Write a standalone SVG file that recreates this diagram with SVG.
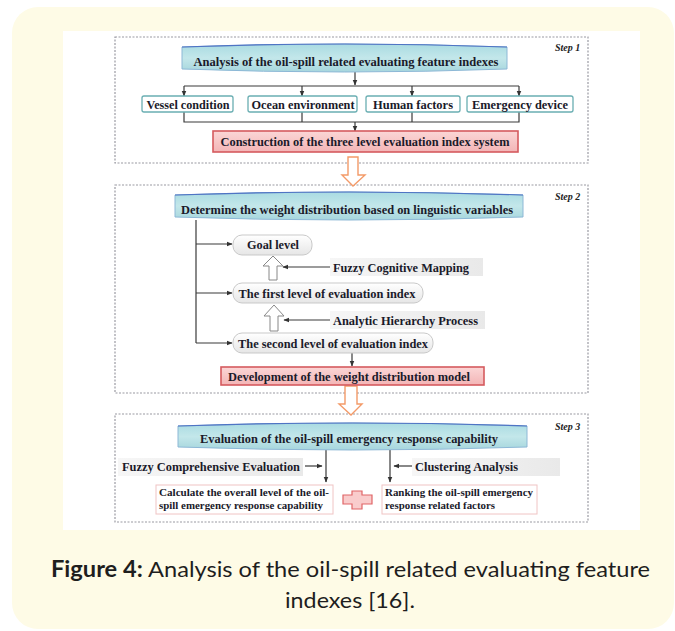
<svg xmlns="http://www.w3.org/2000/svg" width="675" height="631" viewBox="0 0 675 631">
<defs>
<style>
.t{font-family:"Liberation Serif","Times New Roman",serif;font-weight:bold;fill:#1a1a2a;}
.step{font-family:"Liberation Serif","Times New Roman",serif;font-weight:bold;font-style:italic;font-size:10px;fill:#222;}
.dash{fill:none;stroke:#9a9aa2;stroke-width:1.2;stroke-dasharray:2 1.5;}
.cyl{fill:url(#gc);stroke:#8db8d6;stroke-width:1;}
.cyltop{fill:none;stroke:#4f74c4;stroke-width:1.2;}
.teal{fill:#fff;stroke:#6aaeb2;stroke-width:1.3;}
.red{fill:url(#gr);stroke:#d55a5e;stroke-width:1.6;}
.soft{fill:url(#gw);stroke:#c9c9c9;stroke-width:1;}
.lab{fill:url(#gl);stroke:none;}
.pinkbox{fill:#fff;stroke:#f0c4c4;stroke-width:1;}
.ln{fill:none;stroke:#3a3a3a;stroke-width:1.2;}
.hol{fill:#fff;stroke:#888;stroke-width:1;}
.org{fill:#fff;stroke:#f39a68;stroke-width:1.4;}
.cap{font-family:"Lato","Noto Sans","Liberation Sans",sans-serif;font-size:22px;fill:#1e1e1e;}
</style>
<linearGradient id="gc" x1="0" y1="0" x2="0" y2="1"><stop offset="0" stop-color="#a9dbe2"/><stop offset="0.5" stop-color="#c3e7ea"/><stop offset="1" stop-color="#a6d6dd"/></linearGradient>
<linearGradient id="gr" x1="0" y1="0" x2="0" y2="1"><stop offset="0" stop-color="#fbd6d6"/><stop offset="1" stop-color="#f3b5b6"/></linearGradient>
<linearGradient id="gw" x1="0" y1="0" x2="0" y2="1"><stop offset="0" stop-color="#ffffff"/><stop offset="1" stop-color="#e6e6e6"/></linearGradient>
<linearGradient id="gl" x1="0" y1="0" x2="1" y2="0"><stop offset="0" stop-color="#f6f6f6"/><stop offset="1" stop-color="#e9e9e9"/></linearGradient>
<marker id="ar" viewBox="0 0 10 10" refX="9" refY="5" markerWidth="5" markerHeight="5" orient="auto"><path d="M0,1 L10,5 L0,9 Z" fill="#333"/></marker>
</defs>

<rect x="12" y="7" width="662" height="622" rx="26" fill="#fefbe6"/>
<rect x="63" y="31" width="577" height="499" fill="#ffffff"/>

<g id="frames">
<rect class="dash" x="115" y="37" width="473" height="126"/>
<rect class="dash" x="115" y="185" width="473" height="208"/>
<rect class="dash" x="115" y="414" width="473" height="108"/>
<text class="step" x="555" y="51">Step 1</text>
<text class="step" x="555" y="200">Step 2</text>
<text class="step" x="555" y="430">Step 3</text>
</g>

<g id="connectors">
<line class="ln" x1="355" y1="72" x2="355" y2="85" marker-end="url(#ar)"/>
<line class="ln" x1="184" y1="86" x2="519" y2="86"/>
<line class="ln" x1="184" y1="86" x2="184" y2="96" marker-end="url(#ar)"/>
<line class="ln" x1="302" y1="86" x2="302" y2="96" marker-end="url(#ar)"/>
<line class="ln" x1="412" y1="86" x2="412" y2="96" marker-end="url(#ar)"/>
<line class="ln" x1="519" y1="86" x2="519" y2="96" marker-end="url(#ar)"/>
<path class="ln" d="M184,112 V122 H519 V112 M302,112 V122 M412,112 V122"/>
<line class="ln" x1="355" y1="122" x2="355" y2="131" marker-end="url(#ar)"/>

<path class="ln" d="M196,220 V343"/>
<line class="ln" x1="196" y1="244" x2="232" y2="244" marker-end="url(#ar)"/>
<line class="ln" x1="196" y1="293" x2="232" y2="293" marker-end="url(#ar)"/>
<line class="ln" x1="196" y1="343" x2="232" y2="343" marker-end="url(#ar)"/>
<line class="ln" x1="330" y1="267" x2="283" y2="267" marker-end="url(#ar)"/>
<line class="ln" x1="330" y1="320" x2="284" y2="320" marker-end="url(#ar)"/>
<line class="ln" x1="352" y1="353" x2="352" y2="366" marker-end="url(#ar)"/>
<path class="hol" d="M273,256 L283,266 L277,266 L277,280 L269,280 L269,266 L263,266 Z"/>
<path class="hol" d="M274,305 L284,316 L278,316 L278,331 L270,331 L270,316 L264,316 Z"/>

<line class="ln" x1="326" y1="450" x2="326" y2="482" marker-end="url(#ar)"/>
<line class="ln" x1="390" y1="450" x2="390" y2="482" marker-end="url(#ar)"/>
<line class="ln" x1="305" y1="466" x2="322" y2="466" marker-end="url(#ar)"/>
<line class="ln" x1="412" y1="466" x2="394" y2="466" marker-end="url(#ar)"/>

<path class="org" d="M348,157 H358 V175 H365 L353,186 L342,175 H348 Z"/>
<path class="org" d="M345,386 H357 V404 H362 L351,415 L339,404 H345 Z"/>
</g>

<g id="n-analysis">
<path class="cyl" d="M182,47 Q345,41 507,47 L507,69 Q345,75 182,69 Z"/>
<path class="cyltop" d="M182,47 Q345,41 507,47"/>
<text class="t" x="346" y="66" font-size="12.5" text-anchor="middle" textLength="305" lengthAdjust="spacingAndGlyphs">Analysis of  the oil-spill related evaluating feature indexes</text>
</g>
<g id="n-vessel"><rect class="teal" x="142" y="96" width="91" height="16" rx="2"/><text class="t" x="188" y="108.5" font-size="12" text-anchor="middle" textLength="83" lengthAdjust="spacingAndGlyphs">Vessel condition</text></g>
<g id="n-ocean"><rect class="teal" x="248" y="96" width="109" height="16" rx="2"/><text class="t" x="303" y="108.5" font-size="12" text-anchor="middle" textLength="103" lengthAdjust="spacingAndGlyphs">Ocean environment</text></g>
<g id="n-human"><rect class="teal" x="366" y="96" width="94" height="16" rx="2"/><text class="t" x="413" y="108.5" font-size="12" text-anchor="middle" textLength="80" lengthAdjust="spacingAndGlyphs">Human factors</text></g>
<g id="n-emergency"><rect class="teal" x="467" y="96" width="106" height="16" rx="2"/><text class="t" x="520" y="108.5" font-size="12" text-anchor="middle" textLength="96" lengthAdjust="spacingAndGlyphs">Emergency device</text></g>
<g id="n-construction"><rect class="red" x="213" y="131" width="305" height="21"/><text class="t" x="365" y="146" font-size="12.5" text-anchor="middle" textLength="289" lengthAdjust="spacingAndGlyphs">Construction of the three level evaluation index system</text></g>

<g id="n-determine">
<path class="cyl" d="M175,195 Q349,189 523,195 L523,217 Q349,223 175,217 Z"/>
<path class="cyltop" d="M175,195 Q349,189 523,195"/>
<text class="t" x="347" y="213.5" font-size="12.5" text-anchor="middle" textLength="332" lengthAdjust="spacingAndGlyphs">Determine the weight distribution based on linguistic variables</text>
</g>
<g id="n-goal"><rect class="soft" x="233" y="235" width="79" height="20" rx="9"/><text class="t" x="273" y="248.5" font-size="12" text-anchor="middle" textLength="52" lengthAdjust="spacingAndGlyphs">Goal level</text></g>
<g id="n-fcm"><rect class="lab" x="330" y="258" width="153" height="18"/><text class="t" x="333" y="271.5" font-size="12" textLength="136" lengthAdjust="spacingAndGlyphs">Fuzzy Cognitive Mapping</text></g>
<g id="n-first"><rect class="soft" x="233" y="283" width="190" height="20" rx="9"/><text class="t" x="327" y="297.5" font-size="12" text-anchor="middle" textLength="177" lengthAdjust="spacingAndGlyphs">The first level of evaluation index</text></g>
<g id="n-ahp"><rect class="lab" x="330" y="311" width="155" height="18"/><text class="t" x="333" y="324.5" font-size="12" textLength="145" lengthAdjust="spacingAndGlyphs">Analytic Hierarchy Process</text></g>
<g id="n-second"><rect class="soft" x="233" y="333" width="200" height="20" rx="9"/><text class="t" x="333" y="347.5" font-size="12" text-anchor="middle" textLength="190" lengthAdjust="spacingAndGlyphs">The second level of evaluation index</text></g>
<g id="n-development"><rect class="red" x="221" y="367" width="263" height="18"/><text class="t" x="349" y="380.5" font-size="12" text-anchor="middle" textLength="242" lengthAdjust="spacingAndGlyphs">Development of the weight distribution model</text></g>

<g id="n-evaluation">
<path class="cyl" d="M178,426 Q352,420 527,426 L527,447 Q352,453 178,447 Z"/>
<path class="cyltop" d="M178,426 Q352,420 527,426"/>
<text class="t" x="349" y="442.5" font-size="12.5" text-anchor="middle" textLength="298" lengthAdjust="spacingAndGlyphs">Evaluation of the oil-spill emergency response capability</text>
</g>
<g id="n-fce"><rect class="lab" x="118" y="458" width="185" height="18"/><text class="t" x="122" y="471" font-size="12" textLength="178" lengthAdjust="spacingAndGlyphs">Fuzzy Comprehensive Evaluation</text></g>
<g id="n-cluster"><rect class="lab" x="412" y="458" width="148" height="18"/><text class="t" x="415" y="471" font-size="12" textLength="103" lengthAdjust="spacingAndGlyphs">Clustering Analysis</text></g>
<g id="n-calculate"><rect class="pinkbox" x="156" y="485" width="177" height="29"/>
<text class="t" x="159" y="496" font-size="10" textLength="170" lengthAdjust="spacingAndGlyphs">Calculate the overall level of the oil-</text>
<text class="t" x="159" y="509" font-size="10" textLength="164" lengthAdjust="spacingAndGlyphs">spill emergency response capability</text></g>
<g id="n-plus"><path d="M352,491 H362 V495 H372 V504 H362 V509 H352 V504 H343 V495 H352 Z" fill="#f9cccc" stroke="#e06466" stroke-width="1.2"/></g>
<g id="n-ranking"><rect class="pinkbox" x="382" y="485" width="155" height="29"/>
<text class="t" x="385" y="496" font-size="10" textLength="148" lengthAdjust="spacingAndGlyphs">Ranking the oil-spill emergency</text>
<text class="t" x="385" y="509" font-size="10" textLength="110" lengthAdjust="spacingAndGlyphs">response related factors</text></g>

<g id="caption">
<text class="cap" x="51" y="577" textLength="599" lengthAdjust="spacingAndGlyphs"><tspan font-weight="bold">Figure 4:</tspan> Analysis of the oil-spill related evaluating feature</text>
<text class="cap" x="285" y="608" textLength="130" lengthAdjust="spacingAndGlyphs">indexes [16].</text>
</g>
</svg>
